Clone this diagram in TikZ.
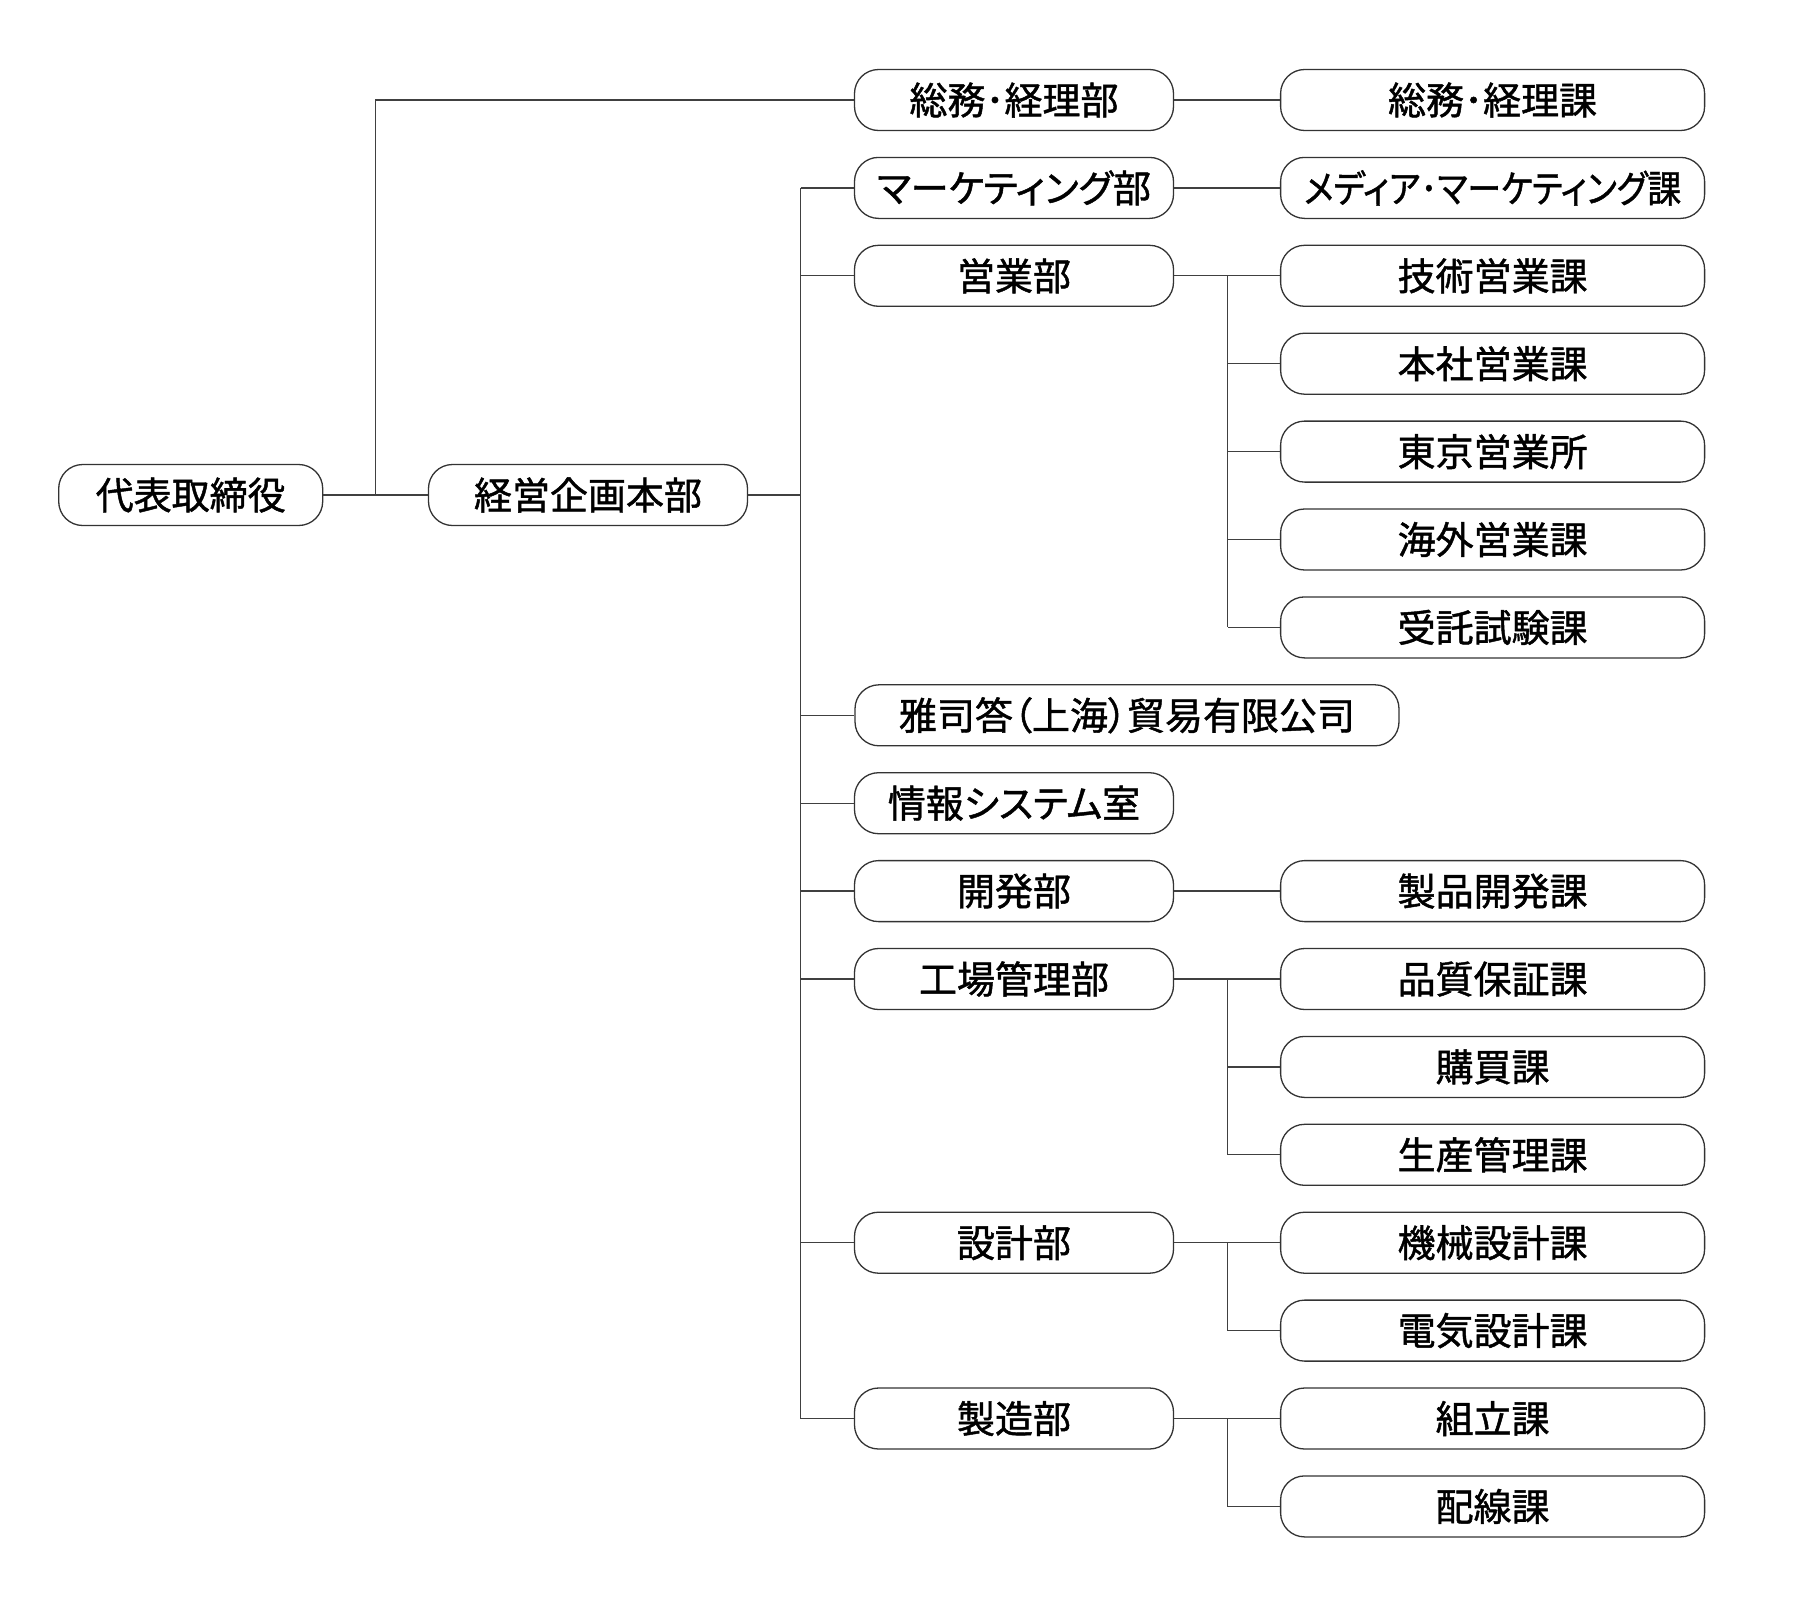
\documentclass[tikz,border=0pt]{standalone}
\usepackage{graphicx}
\usepackage{fontspec}
\newfontfamily\jpfont[RawFeature=+palt,FakeBold=1.2]{Noto Sans CJK JP}
\begin{document}
\begin{tikzpicture}[x=1pt,y=-1pt,
  box/.style={draw=black!80,line width=1.3pt,rounded corners=24pt,minimum height=61pt,inner sep=0pt,
    font=\jpfont\fontsize{38}{40}\selectfont,text=black},
  lroot/.style={box,minimum width=264pt},
  ltwo/.style={box,minimum width=319pt},
  lthree/.style={box,minimum width=424pt},
  conn/.style={draw=black!75,line width=1.3pt}]
\useasboundingbox (0,0) rectangle (1801,1601);
\def\r#1{100+87.9*#1}
% level 1
\node[lroot] (root) at (190.7,495) {代表取締役};
\node[ltwo] (keiei) at (588,495) {経営企画本部};
% level 2
\node[ltwo] (somu) at (1014,{\r0}) {総務･経理部};
\node[ltwo] (mkt) at (1014,{\r1}) {マーケティング部};
\node[ltwo] (eigyo) at (1014,{\r2}) {営業部};
\node[box,minimum width=544pt] (shanghai) at (1127,{\r7}) {雅司答（上海）貿易有限公司};
\node[ltwo] (joho) at (1014,{\r8}) {情報システム室};
\node[ltwo] (kaihatsu) at (1014,{\r9}) {開発部};
\node[ltwo] (kojo) at (1014,{\r{10}}) {工場管理部};
\node[ltwo] (sekkei) at (1014,{\r{13}}) {設計部};
\node[ltwo] (seizo) at (1014,{\r{15}}) {製造部};
% level 3
\node[lthree] (c0) at (1492.6,{\r0}) {総務･経理課};
\node[lthree] (c1) at (1492.6,{\r1}) {\scalebox{0.89}[1]{メディア･マーケティング課}};
\node[lthree] (c2) at (1492.6,{\r2}) {技術営業課};
\node[lthree] (c3) at (1492.6,{\r3}) {本社営業課};
\node[lthree] (c4) at (1492.6,{\r4}) {東京営業所};
\node[lthree] (c5) at (1492.6,{\r5}) {海外営業課};
\node[lthree] (c6) at (1492.6,{\r6}) {受託試験課};
\node[lthree] (c9) at (1492.6,{\r9}) {製品開発課};
\node[lthree] (c10) at (1492.6,{\r{10}}) {品質保証課};
\node[lthree] (c11) at (1492.6,{\r{11}}) {購買課};
\node[lthree] (c12) at (1492.6,{\r{12}}) {生産管理課};
\node[lthree] (c13) at (1492.6,{\r{13}}) {機械設計課};
\node[lthree] (c14) at (1492.6,{\r{14}}) {電気設計課};
\node[lthree] (c15) at (1492.6,{\r{15}}) {組立課};
\node[lthree] (c16) at (1492.6,{\r{16}}) {配線課};
% trunk coordinates
\coordinate (t1) at (375.6,0);
\coordinate (t2) at (800.6,0);
\coordinate (t3) at (1227.8,0);
% connectors level 1
\draw[conn] (root.east) -- (keiei.west);
\draw[conn] (root.east -| t1) |- (somu.west);
\draw[conn] (keiei.east) -- (keiei.east -| t2);
\draw[conn] (t2 |- mkt.west) -- (t2 |- seizo.west);
\foreach \n in {mkt,eigyo,shanghai,joho,kaihatsu,kojo,sekkei,seizo}
  \draw[conn] (t2 |- \n.west) -- (\n.west);
% connectors level 2 -> 3
\draw[conn] (somu.east) -- (c0.west);
\draw[conn] (mkt.east) -- (c1.west);
\draw[conn] (kaihatsu.east) -- (c9.west);
\draw[conn] (eigyo.east) -- (c2.west);
\draw[conn] (t3 |- c2.west) -- (t3 |- c6.west);
\foreach \n in {c3,c4,c5,c6} \draw[conn] (t3 |- \n.west) -- (\n.west);
\draw[conn] (kojo.east) -- (c10.west);
\draw[conn] (t3 |- c10.west) -- (t3 |- c12.west);
\foreach \n in {c11,c12} \draw[conn] (t3 |- \n.west) -- (\n.west);
\draw[conn] (sekkei.east) -- (c13.west);
\draw[conn] (t3 |- c13.west) |- (c14.west);
\draw[conn] (seizo.east) -- (c15.west);
\draw[conn] (t3 |- c15.west) |- (c16.west);
\end{tikzpicture}
\end{document}
